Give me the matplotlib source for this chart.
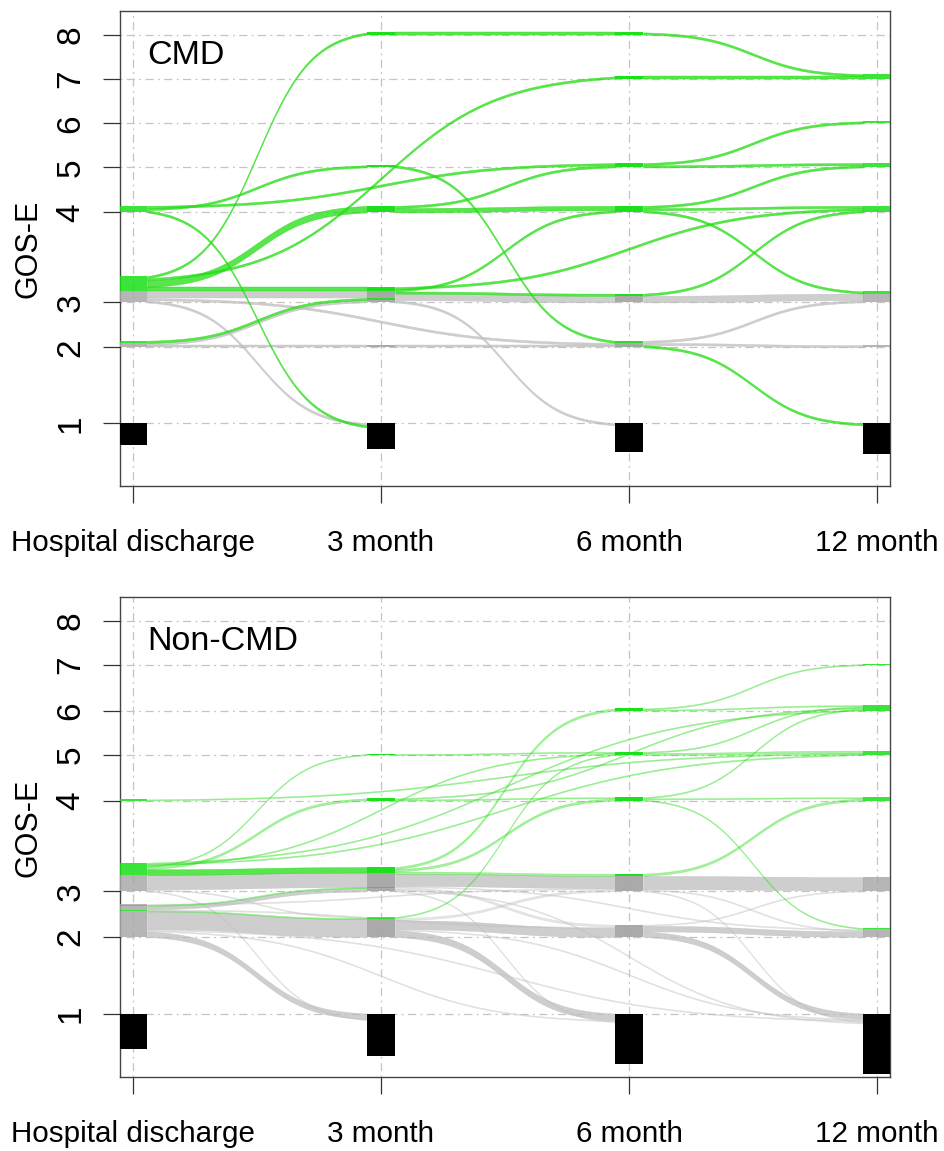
import numpy as np
import matplotlib
matplotlib.use("Agg")
import matplotlib.pyplot as plt
from matplotlib.patches import Rectangle

plt.rcParams['font.family'] = ['Liberation Sans', 'DejaVu Sans']

# --- data ---
time_labels = ["Hospital discharge", "3 month", "6 month", "12 month"]
gose_levels = [1, 2, 3, 4, 5, 6, 7, 8]

# flows: (from time, to time, from GOS-E, to GOS-E, patients, colour group)
cmd_flows = [
    (0, 1, 4, 5, 1, "green"), (0, 2, 4, 5, 1, "green"), (0, 1, 4, 1, 1, "green"),
    (0, 1, 3, 8, 1, "green"), (0, 2, 3, 7, 1, "green"), (0, 1, 3, 4, 3, "green"),
    (0, 1, 3, 3, 2, "green"), (0, 1, 3, 3, 3, "grey"), (0, 1, 3, 1, 1, "grey"),
    (0, 2, 3, 2, 1, "grey"), (0, 1, 2, 3, 1, "green"), (0, 1, 2, 3, 1, "grey"),
    (0, 1, 2, 2, 1, "grey"),
    (1, 2, 8, 8, 1, "green"), (1, 2, 5, 2, 1, "green"), (1, 2, 4, 5, 1, "green"),
    (1, 2, 4, 4, 2, "green"), (1, 2, 3, 4, 1, "green"), (1, 3, 3, 4, 1, "green"),
    (1, 2, 3, 3, 1, "green"), (1, 2, 3, 3, 3, "grey"), (1, 2, 3, 1, 1, "grey"),
    (1, 2, 2, 2, 1, "grey"),
    (2, 3, 8, 7, 1, "green"), (2, 3, 7, 7, 1, "green"), (2, 3, 5, 6, 1, "green"),
    (2, 3, 5, 5, 1, "green"), (2, 3, 4, 5, 1, "green"), (2, 3, 4, 4, 1, "green"),
    (2, 3, 4, 3, 1, "green"), (2, 3, 3, 4, 1, "green"), (2, 3, 3, 3, 3, "grey"),
    (2, 3, 2, 3, 1, "grey"), (2, 3, 2, 2, 1, "grey"), (2, 3, 2, 1, 1, "green"),
]
cmd_dead_discharge = 10

noncmd_flows = [
    (0, 1, 3, 5, 1, "green"), (0, 1, 3, 4, 2, "green"), (0, 2, 3, 5, 1, "green"),
    (0, 3, 3, 6, 1, "green"), (0, 3, 3, 5, 1, "green"), (0, 1, 3, 3, 5, "green"),
    (0, 1, 3, 3, 13, "grey"), (0, 1, 3, 2, 1, "grey"), (0, 1, 3, 1, 1, "grey"),
    (0, 1, 2, 3, 3, "grey"), (0, 1, 2, 3, 1, "green"), (0, 1, 2, 2, 16, "grey"),
    (0, 1, 2, 2, 1, "green"), (0, 1, 2, 1, 5, "grey"), (0, 2, 2, 3, 1, "grey"),
    (0, 2, 2, 2, 1, "grey"), (0, 2, 2, 1, 1, "grey"), (0, 3, 2, 1, 1, "grey"),
    (0, 3, 4, 5, 1, "green"),
    (1, 2, 5, 5, 1, "green"), (1, 2, 4, 4, 1, "green"), (1, 3, 4, 6, 1, "green"),
    (1, 2, 3, 6, 2, "green"), (1, 2, 3, 4, 2, "green"), (1, 2, 3, 3, 2, "green"),
    (1, 2, 3, 3, 11, "grey"), (1, 2, 3, 2, 2, "grey"), (1, 2, 3, 1, 1, "grey"),
    (1, 3, 3, 1, 1, "grey"), (1, 3, 3, 2, 1, "grey"),
    (1, 2, 2, 5, 1, "green"), (1, 2, 2, 2, 8, "grey"), (1, 2, 2, 1, 6, "grey"),
    (1, 3, 2, 1, 1, "grey"), (1, 2, 2, 3, 2, "grey"),
    (2, 3, 6, 7, 1, "green"), (2, 3, 6, 6, 1, "green"), (2, 3, 5, 5, 2, "green"),
    (2, 3, 5, 6, 1, "green"), (2, 3, 4, 6, 1, "green"), (2, 3, 4, 2, 1, "green"),
    (2, 3, 4, 4, 1, "green"), (2, 3, 3, 4, 2, "green"), (2, 3, 3, 3, 12, "grey"),
    (2, 3, 3, 2, 1, "grey"), (2, 3, 3, 1, 1, "grey"),
    (2, 3, 2, 3, 1, "grey"), (2, 3, 2, 2, 5, "grey"), (2, 3, 2, 1, 5, "grey"),
]
noncmd_dead_discharge = 32

# --- layout ---
LEVEL_POS = [0, 1.708, 2.719, 4.742, 5.753, 6.742, 7.753, 8.742]  # squeezed GOS-E scale
W = 0.0565          # half width of node blocks
RANK = {"grey": 0, "green": 1}
RIBBON = {"grey": "#bebebe", "green": "#22dd11"}
NODE = {"grey": "#a9a9a9", "green": "#18e018"}


def stack(flows, unit):
    start_y, end_y, segs = {}, {}, []
    outs, ins = {}, {}
    for i, f in enumerate(flows):
        outs.setdefault((f[0], f[2]), []).append(i)
        ins.setdefault((f[1], f[3]), []).append(i)
    for (t, lvl), idx in outs.items():
        idx.sort(key=lambda i: (flows[i][3], flows[i][1], RANK[flows[i][5]]))
        y = LEVEL_POS[lvl - 1]
        for i in idx:
            h = flows[i][4] * unit
            start_y[i] = y
            segs.append((t, y, h, flows[i][5]))
            y += h
    for (t, lvl), idx in ins.items():
        idx.sort(key=lambda i: (flows[i][2], -flows[i][0], RANK[flows[i][5]]))
        y = LEVEL_POS[lvl - 1]
        for i in idx:
            h = flows[i][4] * unit
            if lvl == 1:
                y -= h
                end_y[i] = y
            else:
                end_y[i] = y
                segs.append((t, y, h, flows[i][5]))
                y += h
    return start_y, end_y, segs


def sigmoid(u, k=8.0):
    s = 1 / (1 + np.exp(-k * (u - 0.5)))
    s0, s1 = 1 / (1 + np.exp(k / 2)), 1 / (1 + np.exp(-k / 2))
    return (s - s0) / (s1 - s0)


def draw_panel(ax, flows, dead0, unit, title, thin_alpha, label_y):
    for y in LEVEL_POS:
        ax.axhline(y, color="#c4c4c4", lw=0.9, ls=(0, (1.5, 3.5, 6.5, 3.5)), zorder=0)
    for t in range(4):
        ax.axvline(t, color="#c4c4c4", lw=0.9, ls=(0, (1.5, 3.5, 6.5, 3.5)), zorder=0)

    start_y, end_y, segs = stack(flows, unit)
    for group in ["grey", "green"]:
        for i, f in enumerate(flows):
            if f[5] != group:
                continue
            x0, x1 = f[0] + W, f[1] - W
            xs = np.linspace(x0, x1, 150)
            yb = start_y[i] + (end_y[i] - start_y[i]) * sigmoid((xs - x0) / (x1 - x0))
            h = f[4] * unit
            a = thin_alpha if f[4] <= 2 else 0.75
            ax.fill_between(xs, yb, yb + h, facecolor=RIBBON[group], edgecolor=RIBBON[group],
                            lw=0.35, alpha=a, zorder=2 if group == "grey" else 3)

    for t, y, h, col in segs:
        ax.add_patch(Rectangle((t - W, y), 2 * W, h, facecolor=NODE[col], edgecolor="none",
                               alpha=0.85, zorder=4))

    for t in range(4):
        d = dead0 + sum(f[4] for f in flows if f[3] == 1 and f[1] <= t)
        ax.add_patch(Rectangle((t - W, -d * unit), 2 * W, d * unit, facecolor="black",
                               edgecolor="none", zorder=5))

    ax.text(0.056, 8.27, title, fontsize=24.5, ha="left", va="center", zorder=6)

    ax.set_xlim(-0.052, 3.052)
    ax.set_ylim(-1.41, 9.27)
    ax.set_xticks(range(4))
    ax.set_xticklabels(time_labels, fontsize=21.3)
    ax.set_yticks(LEVEL_POS)
    ax.set_yticklabels([str(g) for g in gose_levels], fontsize=24, rotation=90, va="center")
    ax.tick_params(axis="both", length=12, width=0.9, color="#333333")
    ax.tick_params(axis="x", pad=19)
    ax.tick_params(axis="y", pad=12)
    ax.set_ylabel("GOS-E", fontsize=22)
    ax.yaxis.set_label_coords(-0.100, label_y)
    for sp in ax.spines.values():
        sp.set_linewidth(1.0)
        sp.set_color("#444444")


fig = plt.figure(figsize=(9.45, 11.51), dpi=100)
ax1 = fig.add_axes([0.127, 0.5778, 0.8148, 0.4126])
ax2 = fig.add_axes([0.127, 0.0643, 0.8148, 0.4170])

draw_panel(ax1, cmd_flows, cmd_dead_discharge, 0.049, "CMD", 0.75, 0.50)
draw_panel(ax2, noncmd_flows, noncmd_dead_discharge, 0.0246, "Non-CMD", 0.4, 0.52)

fig.savefig("out.png", dpi=100)
